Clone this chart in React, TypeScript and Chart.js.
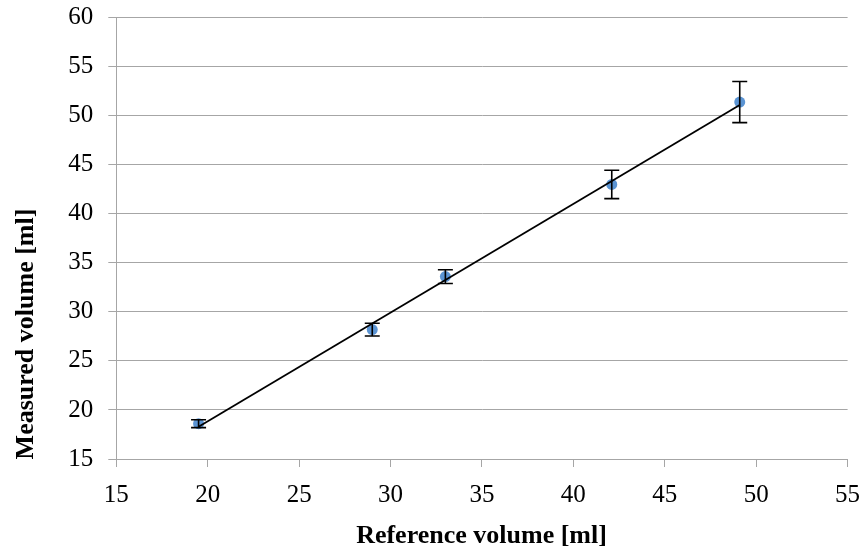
import React, { useEffect, useRef } from "react";
import { Chart, registerables } from "chart.js";

Chart.register(...registerables);

const referenceVolume = [19.5, 29.0, 33.0, 42.1, 49.1];
const measuredVolume = [18.6, 28.2, 33.6, 43.0, 51.4];
const errorAmount = [0.4, 0.65, 0.7, 1.45, 2.1];

const xTitle = "Reference volume [ml]";
const yTitle = "Measured volume [ml]";
const xMin = 15, xMax = 55, xStep = 5;
const yMin = 15, yMax = 60, yStep = 5;

const FONT = "'Liberation Serif', 'Times New Roman', serif";
const GRID = "#a6a6a6";
const POINT = "#5B94D3";

function regression(xs: number[], ys: number[]) {
  const n = xs.length;
  const mx = xs.reduce((a, b) => a + b, 0) / n;
  const my = ys.reduce((a, b) => a + b, 0) / n;
  let sxy = 0, sxx = 0;
  for (let i = 0; i < n; i++) {
    sxy += (xs[i] - mx) * (ys[i] - my);
    sxx += (xs[i] - mx) * (xs[i] - mx);
  }
  const slope = sxy / sxx;
  return { slope, intercept: my - slope * mx };
}

export default function App() {
  const ref = useRef<HTMLCanvasElement | null>(null);

  useEffect(() => {
    if (!ref.current) return;
    const { slope, intercept } = regression(referenceVolume, measuredVolume);
    const x0 = Math.min(...referenceVolume);
    const x1 = Math.max(...referenceVolume);
    const trend = [
      { x: x0, y: slope * x0 + intercept },
      { x: x1, y: slope * x1 + intercept },
    ];
    const points = referenceVolume.map((x, i) => ({ x, y: measuredVolume[i] }));

    const errorBars = {
      id: "errorBars",
      afterDatasetDraw(chart: any, args: any) {
        if (args.index !== 1) return;
        const ctx = chart.ctx;
        const xs = chart.scales.x;
        const ys = chart.scales.y;
        ctx.save();
        ctx.strokeStyle = "#000";
        ctx.lineWidth = 1.6;
        referenceVolume.forEach((x, i) => {
          const px = xs.getPixelForValue(x);
          const top = ys.getPixelForValue(measuredVolume[i] + errorAmount[i]);
          const bot = ys.getPixelForValue(measuredVolume[i] - errorAmount[i]);
          ctx.beginPath();
          ctx.moveTo(px, top);
          ctx.lineTo(px, bot);
          ctx.moveTo(px - 7.5, top);
          ctx.lineTo(px + 7.5, top);
          ctx.moveTo(px - 7.5, bot);
          ctx.lineTo(px + 7.5, bot);
          ctx.stroke();
        });
        ctx.restore();
      },
    };

    const titles = {
      id: "titles",
      afterDraw(chart: any) {
        const ctx = chart.ctx;
        ctx.save();
        ctx.fillStyle = "#000";
        ctx.font = `bold 26px ${FONT}`;
        ctx.textAlign = "center";
        ctx.textBaseline = "middle";
        ctx.fillText(xTitle, 481.5, 536);
        ctx.translate(26, 334);
        ctx.rotate(-Math.PI / 2);
        ctx.fillText(yTitle, 0, 0);
        ctx.restore();
      },
    };

    const chart = new Chart(ref.current, {
      type: "scatter",
      data: {
        datasets: [
          {
            type: "line",
            data: trend,
            borderColor: "#000",
            borderWidth: 1.8,
            pointRadius: 0,
            fill: false,
          } as any,
          {
            data: points,
            backgroundColor: POINT,
            borderColor: POINT,
            pointRadius: 5.5,
            pointBorderWidth: 0,
          },
        ],
      },
      options: {
        animation: false,
        responsive: true,
        maintainAspectRatio: false,
        layout: { padding: { left: 0, top: 17.7, right: 15.4, bottom: 0 } },
        plugins: { legend: { display: false }, tooltip: { enabled: false } },
        scales: {
          x: {
            type: "linear",
            min: xMin,
            max: xMax,
            afterFit(scale: any) {
              scale.height = 91;
              scale.paddingLeft = 0;
              scale.paddingRight = 0;
            },
            ticks: {
              stepSize: xStep,
              color: "#000",
              font: { family: FONT, size: 25 },
              padding: 13,
              maxRotation: 0,
            },
            grid: {
              drawOnChartArea: false,
              drawTicks: true,
              tickLength: 8,
              color: GRID,
              lineWidth: 1,
            },
            border: { color: GRID, width: 1 },
          },
          y: {
            type: "linear",
            min: yMin,
            max: yMax,
            afterFit(scale: any) {
              scale.width = 116.3;
              scale.paddingTop = 0;
              scale.paddingBottom = 0;
            },
            ticks: {
              stepSize: yStep,
              color: "#000",
              font: { family: FONT, size: 25 },
              padding: 15,
            },
            grid: {
              drawOnChartArea: true,
              drawTicks: true,
              tickLength: 8,
              color: GRID,
              lineWidth: 1,
            },
            border: { color: GRID, width: 1 },
          },
        },
      },
      plugins: [errorBars, titles],
    });
    return () => chart.destroy();
  }, []);

  return (
    <div style={{ position: "fixed", left: 0, top: 0, width: 863, height: 550, background: "#fff" }}>
      <canvas ref={ref} />
    </div>
  );
}
